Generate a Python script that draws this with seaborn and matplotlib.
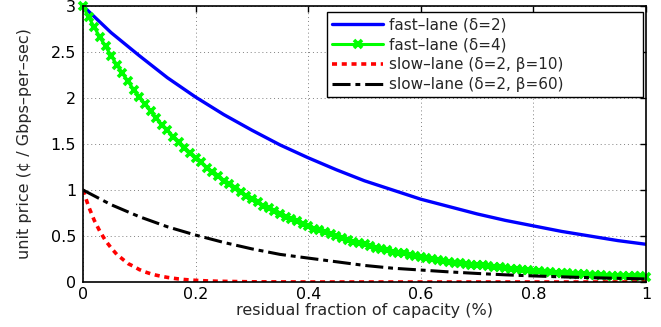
import matplotlib
matplotlib.use("Agg")
import matplotlib.pyplot as plt
import seaborn as sns
import numpy as np

# ---- data ----
x_fast2 = [0.00, 0.05, 0.10, 0.15, 0.20, 0.25, 0.30, 0.35, 0.40, 0.45, 0.50,
           0.55, 0.60, 0.65, 0.70, 0.75, 0.80, 0.85, 0.90, 0.95, 1.00]
y_fast2 = [3.00, 2.71, 2.46, 2.22, 2.01, 1.82, 1.65, 1.49, 1.35, 1.22, 1.10,
           1.00, 0.90, 0.82, 0.74, 0.67, 0.61, 0.55, 0.50, 0.45, 0.41]

x_fast4 = [round(0.01 * i, 2) for i in range(101)]
y_fast4 = [3.00, 2.88, 2.77, 2.66, 2.56, 2.46, 2.36, 2.27, 2.18, 2.09,
           2.01, 1.93, 1.86, 1.78, 1.71, 1.65, 1.58, 1.52, 1.46, 1.40,
           1.35, 1.30, 1.24, 1.20, 1.15, 1.10, 1.06, 1.02, 0.98, 0.94,
           0.90, 0.87, 0.83, 0.80, 0.77, 0.74, 0.71, 0.68, 0.66, 0.63,
           0.61, 0.58, 0.56, 0.54, 0.52, 0.50, 0.48, 0.46, 0.44, 0.42,
           0.41, 0.39, 0.37, 0.36, 0.35, 0.33, 0.32, 0.31, 0.29, 0.28,
           0.27, 0.26, 0.25, 0.24, 0.23, 0.22, 0.21, 0.21, 0.20, 0.19,
           0.18, 0.18, 0.17, 0.16, 0.16, 0.15, 0.14, 0.14, 0.13, 0.13,
           0.12, 0.12, 0.11, 0.11, 0.10, 0.10, 0.10, 0.09, 0.09, 0.09,
           0.08, 0.08, 0.08, 0.07, 0.07, 0.07, 0.06, 0.06, 0.06, 0.06,
           0.055]

x_slow10 = [0.00, 0.01, 0.02, 0.03, 0.04, 0.05, 0.06, 0.07, 0.08, 0.09,
            0.10, 0.11, 0.12, 0.13, 0.14, 0.15, 0.16, 0.17, 0.18, 0.19,
            0.20, 0.21, 0.22, 0.23, 0.24, 0.25, 0.26, 0.27, 0.28, 0.29,
            0.30, 0.40, 0.50, 0.60, 0.70, 0.80, 0.90, 1.00]
y_slow10 = [1.00, 0.82, 0.67, 0.55, 0.45, 0.37, 0.30, 0.25, 0.20, 0.17,
            0.135, 0.11, 0.09, 0.074, 0.061, 0.05, 0.041, 0.033, 0.027, 0.022,
            0.018, 0.015, 0.012, 0.010, 0.008, 0.007, 0.006, 0.005, 0.004, 0.003,
            0.002, 0.0, 0.0, 0.0, 0.0, 0.0, 0.0, 0.0]

x_slow60 = [0.00, 0.05, 0.10, 0.15, 0.20, 0.25, 0.30, 0.35, 0.40, 0.45, 0.50,
            0.55, 0.60, 0.65, 0.70, 0.75, 0.80, 0.85, 0.90, 0.95, 1.00]
y_slow60 = [1.00, 0.84, 0.71, 0.60, 0.51, 0.43, 0.36, 0.30, 0.26, 0.22, 0.18,
            0.15, 0.13, 0.11, 0.093, 0.078, 0.066, 0.056, 0.047, 0.040, 0.033]

labels = ["fast–lane (δ=2)", "fast–lane (δ=4)",
          "slow–lane (δ=2, β=10)", "slow–lane (δ=2, β=60)"]
x_ticks = [0, 0.2, 0.4, 0.6, 0.8, 1]
x_ticklabels = ["0", "0.2", "0.4", "0.6", "0.8", "1"]
y_ticks = [0, 0.5, 1, 1.5, 2, 2.5, 3]
y_ticklabels = ["0", "0.5", "1", "1.5", "2", "2.5", "3"]

sns.set_style("white")
plt.rcParams["font.family"] = ["DejaVu Sans"]

fig = plt.figure(figsize=(6.61, 3.27), dpi=100)
ax = fig.add_axes([83 / 661, 1 - 282 / 327, 563 / 661, 276 / 327])

green = (0, 1, 0)
sns.lineplot(x=x_fast2, y=y_fast2, ax=ax, color=(0, 0, 1), lw=2.4,
             label=labels[0], estimator=None, sort=False)
sns.lineplot(x=x_fast4, y=y_fast4, ax=ax, color=green, lw=2.2,
             marker="x", markersize=6, markeredgewidth=2.6,
             markeredgecolor=green, markerfacecolor=green,
             label=labels[1], estimator=None, sort=False, clip_on=False)
sns.lineplot(x=x_slow10, y=y_slow10, ax=ax, color=(1, 0, 0), lw=2.6,
             label=labels[2], estimator=None, sort=False)
sns.lineplot(x=x_slow60, y=y_slow60, ax=ax, color=(0, 0, 0), lw=2.2,
             label=labels[3], estimator=None, sort=False)

lines = ax.get_lines()
lines[1].set_linestyle("-")
lines[1].set_markeredgecolor(green)
lines[2].set_dashes([1.4, 1.3])
lines[3].set_dashes([5.9, 1.6, 1.6, 1.6])

ax.set_xlim(0, 1)
ax.set_ylim(0, 3)
ax.set_xticks(x_ticks)
ax.set_xticklabels(x_ticklabels)
ax.set_yticks(y_ticks)
ax.set_yticklabels(y_ticklabels)
ax.tick_params(direction="in", length=4, width=1.0, top=True, right=True,
               labelsize=11.5, colors="black")
ax.tick_params(axis="y", pad=5)
ax.tick_params(axis="x", pad=3.5)

ax.grid(True, linestyle=(0, (1, 3)), linewidth=0.7, color="0.5")
for s in ax.spines.values():
    s.set_visible(True)
    s.set_color("black")
    s.set_linewidth(1.2)

ax.set_xlabel("residual fraction of capacity (%)", fontsize=11.5)
ax.set_ylabel("unit price (¢ / Gbps–per–sec)", fontsize=11.5)
ax.xaxis.label.set_va("center")
ax.yaxis.label.set_va("center")
ax.xaxis.set_label_coords(0.5, (282 - 311) / 276)
ax.yaxis.set_label_coords((25 - 83) / 563, 0.5)

handles, lbls = ax.get_legend_handles_labels()
leg = ax.legend(handles, lbls, loc="upper left",
                bbox_to_anchor=(327 / 661, 1 - 97 / 327, 316 / 661, 85 / 327),
                bbox_transform=fig.transFigure, mode="expand",
                borderaxespad=0, fontsize=11, numpoints=1,
                handlelength=3.3, handletextpad=0.4, labelspacing=0.32,
                borderpad=0.35, fancybox=False, framealpha=1,
                edgecolor="black")
leg.get_frame().set_linewidth(1.0)
for h in leg.get_lines():
    if h.get_marker() == "x":
        h.set_linestyle("-")
        h.set_markeredgecolor(green)

fig.savefig("out.png", dpi=100)
